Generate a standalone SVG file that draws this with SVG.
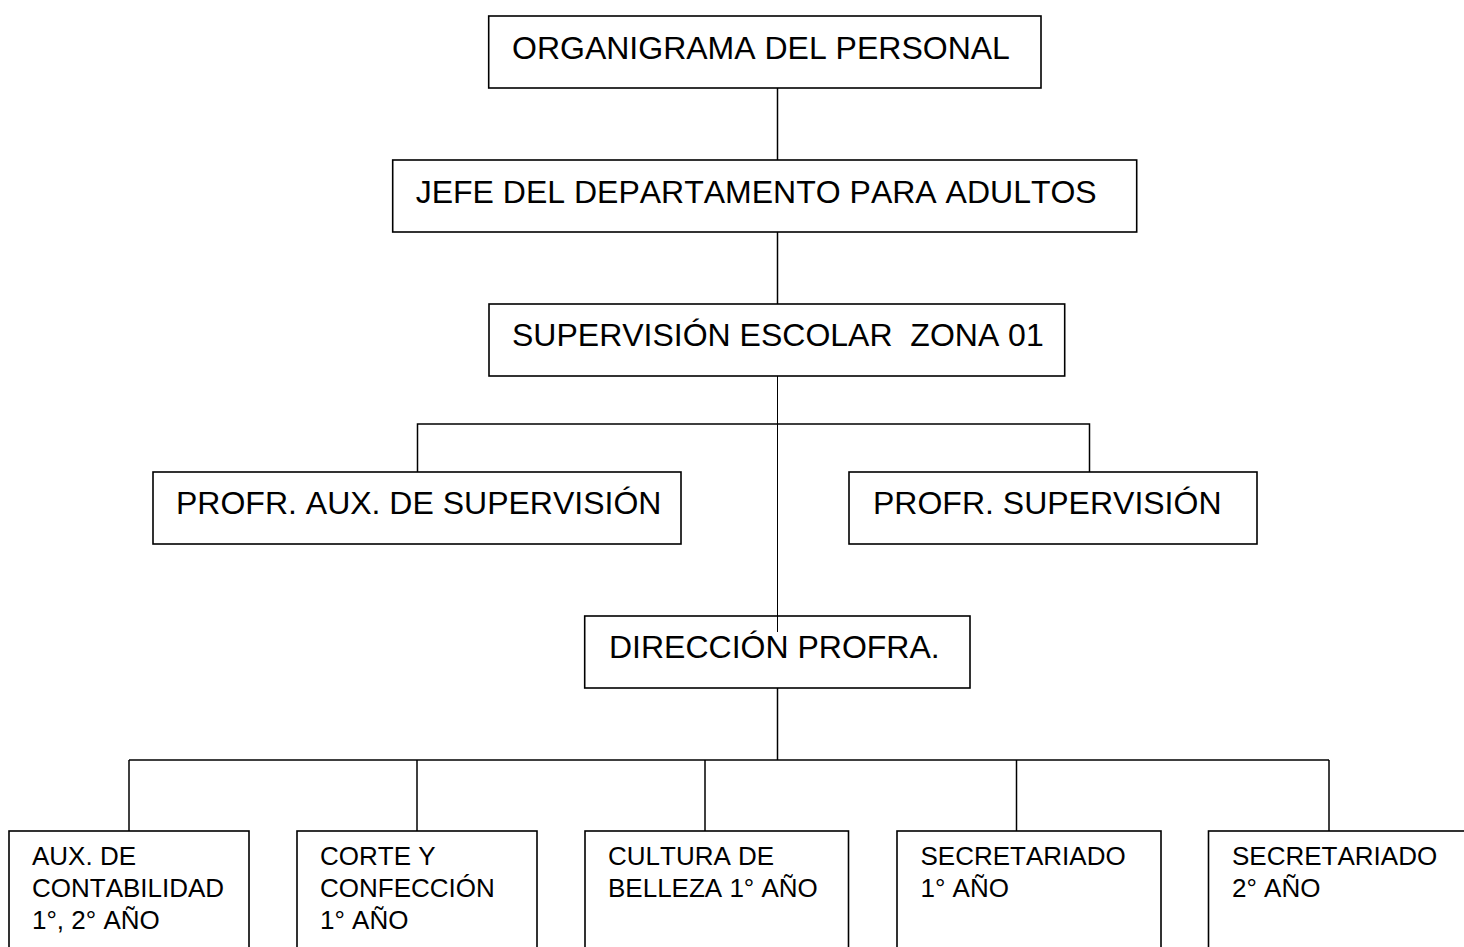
<svg xmlns="http://www.w3.org/2000/svg" width="1464" height="947" viewBox="0 0 1464 947">
<style>
.box{fill:#fff;stroke:#000;stroke-width:1.6}
.con{fill:none;stroke:#000;stroke-width:1.5}
.thin{fill:none;stroke:#000;stroke-width:1}
.big{font-family:"Liberation Sans",Arial,sans-serif;font-size:32px;fill:#000;font-kerning:none}
.sm{font-family:"Liberation Sans",Arial,sans-serif;font-size:26px;fill:#000;font-kerning:none}
</style>
<rect width="1464" height="947" fill="#fff"/>
<g id="connectors">
<line class="con" x1="777.5" y1="88" x2="777.5" y2="160"/>
<line class="con" x1="777.5" y1="232" x2="777.5" y2="304"/>
<polyline class="con" points="417.5,472 417.5,424 1089.5,424 1089.5,472"/>
<line class="con" x1="777.5" y1="688" x2="777.5" y2="760"/>
<line class="con" x1="129" y1="760" x2="1329" y2="760"/>
<line class="con" x1="129" y1="760" x2="129" y2="831"/>
<line class="con" x1="417" y1="760" x2="417" y2="831"/>
<line class="con" x1="705" y1="760" x2="705" y2="831"/>
<line class="con" x1="1016.5" y1="760" x2="1016.5" y2="831"/>
<line class="con" x1="1329" y1="760" x2="1329" y2="831"/>
</g>
<g id="n-organigrama"><rect class="box" x="488.7" y="16" width="552.3" height="72"/><text class="big" x="512" y="58.5">ORGANIGRAMA DEL PERSONAL</text></g>
<g id="n-jefe"><rect class="box" x="392.7" y="160" width="744" height="72"/><text class="big" x="415.7" y="202.5">JEFE DEL DEPARTAMENTO PARA ADULTOS</text></g>
<g id="n-supervision"><rect class="box" x="489" y="304" width="575.7" height="72"/><text class="big" x="512" y="346" xml:space="preserve">SUPERVISIÓN ESCOLAR  ZONA 01</text></g>
<g id="n-profr-aux"><rect class="box" x="153" y="472" width="528" height="72"/><text class="big" x="176" y="514">PROFR. AUX. DE SUPERVISIÓN</text></g>
<g id="n-profr-sup"><rect class="box" x="849" y="472" width="408" height="72"/><text class="big" x="873" y="514">PROFR. SUPERVISIÓN</text></g>
<g id="n-direccion"><rect class="box" x="584.7" y="616" width="385.3" height="72"/><text class="big" x="609" y="658">DIRECCIÓN PROFRA.</text></g>
<line class="thin" x1="777.5" y1="376" x2="777.5" y2="632"/>
<g id="n-contabilidad"><rect class="box" x="9" y="831" width="240" height="140"/><text class="sm" x="32" y="865">AUX. DE</text><text class="sm" x="32" y="897">CONTABILIDAD</text><text class="sm" x="32" y="929">1°, 2° AÑO</text></g>
<g id="n-corte"><rect class="box" x="297" y="831" width="240" height="140"/><text class="sm" x="320" y="865">CORTE Y</text><text class="sm" x="320" y="897">CONFECCIÓN</text><text class="sm" x="320" y="929">1° AÑO</text></g>
<g id="n-belleza"><rect class="box" x="585" y="831" width="263.5" height="140"/><text class="sm" x="608" y="865">CULTURA DE</text><text class="sm" x="608" y="897">BELLEZA 1° AÑO</text></g>
<g id="n-secre1"><rect class="box" x="897" y="831" width="264" height="140"/><text class="sm" x="920.5" y="865">SECRETARIADO</text><text class="sm" x="920.5" y="897">1° AÑO</text></g>
<g id="n-secre2"><rect class="box" x="1208.5" y="831" width="280" height="140"/><text class="sm" x="1232" y="865">SECRETARIADO</text><text class="sm" x="1232" y="897">2° AÑO</text></g>
</svg>
